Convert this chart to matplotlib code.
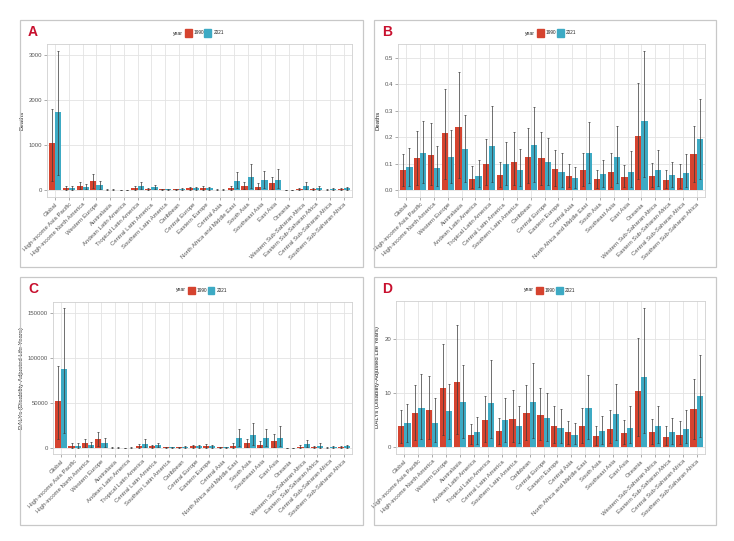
import numpy as np
import matplotlib.pyplot as plt
from matplotlib.patches import Rectangle

plt.rcParams['font.family'] = ['Liberation Sans', 'DejaVu Sans']

regions = ["Global", "High-income Asia Pacific", "High-income North America", "Western Europe",
           "Australasia", "Andean Latin America", "Tropical Latin America", "Central Latin America",
           "Southern Latin America", "Caribbean", "Central Europe", "Eastern Europe", "Central Asia",
           "North Africa and Middle East", "South Asia", "Southeast Asia", "East Asia", "Oceania",
           "Western Sub-Saharan Africa", "Eastern Sub-Saharan Africa", "Central Sub-Saharan Africa",
           "Southern Sub-Saharan Africa"]
years = ["1990", "2021"]

# A: deaths (number)
deaths_1990 = [1040, 50, 90, 195, 8, 3, 40, 25, 15, 15, 40, 45, 10, 55, 100, 75, 155, 2, 25, 25, 8, 25]
deaths_1990_lo = [200, 10, 20, 40, 2, 1, 8, 5, 3, 3, 8, 9, 2, 10, 20, 15, 30, 0, 5, 5, 2, 5]
deaths_1990_hi = [1800, 95, 180, 360, 15, 6, 80, 50, 30, 30, 75, 80, 20, 100, 180, 150, 295, 4, 50, 50, 16, 50]
deaths_2021 = [1740, 45, 65, 110, 6, 5, 85, 60, 15, 20, 35, 35, 10, 205, 280, 215, 215, 3, 85, 50, 18, 35]
deaths_2021_lo = [330, 10, 15, 25, 1, 1, 15, 12, 3, 4, 7, 7, 2, 40, 50, 40, 40, 1, 15, 10, 4, 7]
deaths_2021_hi = [3080, 95, 130, 200, 12, 10, 180, 120, 30, 40, 65, 70, 20, 410, 570, 430, 470, 6, 170, 100, 38, 70]

# B: deaths (rate)
drate_1990 = [0.077, 0.123, 0.131, 0.216, 0.238, 0.043, 0.098, 0.058, 0.106, 0.126, 0.121, 0.079, 0.052,
              0.076, 0.041, 0.069, 0.048, 0.205, 0.053, 0.037, 0.046, 0.138]
drate_1990_lo = [0.015, 0.02, 0.02, 0.04, 0.045, 0.008, 0.02, 0.01, 0.02, 0.025, 0.02, 0.015, 0.01,
                 0.015, 0.008, 0.013, 0.01, 0.04, 0.01, 0.007, 0.009, 0.03]
drate_1990_hi = [0.135, 0.225, 0.255, 0.383, 0.448, 0.09, 0.195, 0.105, 0.218, 0.233, 0.221, 0.15, 0.097,
                 0.142, 0.077, 0.142, 0.093, 0.405, 0.104, 0.074, 0.097, 0.243]
drate_2021 = [0.088, 0.139, 0.085, 0.125, 0.155, 0.052, 0.165, 0.097, 0.076, 0.169, 0.107, 0.07, 0.045,
              0.142, 0.06, 0.126, 0.067, 0.263, 0.075, 0.055, 0.066, 0.192]
drate_2021_lo = [0.015, 0.025, 0.015, 0.025, 0.03, 0.01, 0.03, 0.018, 0.015, 0.03, 0.02, 0.012, 0.008,
                 0.025, 0.012, 0.025, 0.013, 0.05, 0.015, 0.01, 0.013, 0.04]
drate_2021_hi = [0.16, 0.26, 0.168, 0.227, 0.285, 0.112, 0.32, 0.18, 0.155, 0.315, 0.198, 0.142, 0.088,
                 0.257, 0.115, 0.243, 0.146, 0.525, 0.15, 0.105, 0.138, 0.345]

# C: DALYs (number)
dalys_1990 = [52000, 2700, 5000, 10000, 500, 200, 2300, 1800, 800, 800, 2000, 2500, 600, 2700, 5000, 3700,
              8000, 150, 1500, 1300, 500, 1200]
dalys_1990_lo = [10000, 500, 1000, 2000, 100, 40, 450, 350, 150, 150, 400, 500, 120, 500, 1000, 700,
                 1500, 30, 300, 250, 100, 250]
dalys_1990_hi = [91000, 5200, 9500, 17500, 1000, 400, 4500, 3500, 1600, 1500, 3700, 4500, 1100, 5000, 9500,
                 7500, 15000, 300, 3000, 2500, 1000, 2300]
dalys_2021 = [88000, 2700, 3700, 6000, 400, 300, 4800, 3300, 800, 1000, 1800, 1800, 600, 11500, 14500,
              11000, 11500, 200, 4300, 2600, 1000, 1700]
dalys_2021_lo = [17000, 500, 700, 1200, 80, 60, 900, 650, 150, 200, 350, 350, 120, 2200, 2800, 2100,
                 2200, 40, 850, 500, 200, 350]
dalys_2021_hi = [156000, 5500, 7200, 11000, 800, 600, 9500, 6000, 1500, 2000, 3400, 3600, 1100, 21000,
                 28000, 21000, 24000, 400, 8500, 5200, 2000, 3300]

# D: DALYs (rate)
darate_1990 = [3.9, 6.3, 6.8, 10.9, 12.1, 2.2, 4.9, 3.0, 5.2, 6.3, 6.0, 3.9, 2.7, 3.9, 2.1, 3.4, 2.5, 10.3,
               2.7, 1.9, 2.3, 7.0]
darate_1990_lo = [0.8, 1.3, 1.4, 2.2, 2.4, 0.5, 1.0, 0.6, 1.0, 1.3, 1.2, 0.8, 0.5, 0.8, 0.4, 0.7, 0.5, 2.1,
                  0.5, 0.4, 0.5, 1.4]
darate_1990_hi = [6.8, 11.5, 13.1, 19.1, 22.6, 4.3, 9.5, 5.4, 10.5, 11.5, 10.9, 7.5, 4.8, 7.3, 3.8, 6.8, 4.9,
                  20.2, 5.2, 3.8, 4.8, 12.5]
darate_2021 = [4.5, 7.3, 4.5, 6.7, 8.3, 2.7, 8.2, 5.0, 3.8, 8.4, 5.4, 3.5, 2.3, 7.3, 3.0, 6.1, 3.5, 13.0,
               3.8, 2.8, 3.3, 9.5]
darate_2021_lo = [1.0, 1.5, 1.0, 1.4, 1.7, 0.6, 1.6, 1.0, 0.8, 1.7, 1.1, 0.7, 0.5, 1.5, 0.6, 1.2, 0.7, 2.6,
                  0.8, 0.6, 0.7, 1.9]
darate_2021_hi = [8.0, 13.5, 9.1, 11.7, 15.2, 5.6, 16.1, 9.1, 7.6, 15.6, 9.9, 7.1, 4.4, 13.3, 5.7, 11.6, 7.5,
                  25.7, 7.5, 5.3, 6.8, 17.0]

red = "#D5432F"
teal = "#3DAAC4"
W, H = 734, 541

fig = plt.figure(figsize=(7.34, 5.41), dpi=100)

panels = [
    # letter, axes box (px: left, top, right, bottom), box (px), ylim, yticks, ylabel, data
    ("A", (47, 44, 352, 197), (20, 20, 363, 267), (-155, 3244), [0, 1000, 2000, 3000], "Deaths",
     (deaths_1990, deaths_1990_lo, deaths_1990_hi, deaths_2021, deaths_2021_lo, deaths_2021_hi)),
    ("B", (398, 44, 705, 197), (374, 20, 716, 267), (-0.0265, 0.553), [0, 0.1, 0.2, 0.3, 0.4, 0.5], "Deaths",
     (drate_1990, drate_1990_lo, drate_1990_hi, drate_2021, drate_2021_lo, drate_2021_hi)),
    ("C", (53, 302, 352, 454), (20, 277, 363, 525), (-6667, 162222), [0, 50000, 100000, 150000],
     "DALYs (Disability-Adjusted Life Years)",
     (dalys_1990, dalys_1990_lo, dalys_1990_hi, dalys_2021, dalys_2021_lo, dalys_2021_hi)),
    ("D", (396, 301, 705, 454), (374, 277, 716, 525), (-1.3, 27.0), [0, 10, 20],
     "DALYs (Disability-Adjusted Life Years)",
     (darate_1990, darate_1990_lo, darate_1990_hi, darate_2021, darate_2021_lo, darate_2021_hi)),
]

x = np.arange(len(regions))
bw = 0.45

for letter, (l, t, r, b), (bl, bt, br, bb), ylim, yticks, ylabel, data in panels:
    # outer panel frame
    fig.patches.append(Rectangle((bl / W, 1 - bb / H), (br - bl) / W, (bb - bt) / H,
                                 transform=fig.transFigure, fill=False, ec="#c8c8c8", lw=0.9))
    ax = fig.add_axes([l / W, 1 - b / H, (r - l) / W, (b - t) / H])
    v1, lo1, hi1, v2, lo2, hi2 = [np.array(d, dtype=float) for d in data]
    ax.bar(x - bw / 2, v1, bw, color=red, zorder=2)
    ax.bar(x + bw / 2, v2, bw, color=teal, zorder=2)
    ax.errorbar(x - bw / 2, v1, yerr=[v1 - lo1, hi1 - v1], fmt="none", ecolor="#3a3a3a",
                elinewidth=0.6, capsize=0.8, capthick=0.6, alpha=0.85, zorder=3)
    ax.errorbar(x + bw / 2, v2, yerr=[v2 - lo2, hi2 - v2], fmt="none", ecolor="#3a3a3a",
                elinewidth=0.6, capsize=0.8, capthick=0.6, alpha=0.85, zorder=3)
    ax.set_xlim(-0.6, len(regions) - 0.4)
    ax.set_ylim(*ylim)
    ax.set_yticks(yticks)
    if letter == "B":
        ax.set_yticklabels(["%.1f" % v for v in yticks])
    else:
        ax.set_yticklabels([str(v) for v in yticks])
    ax.set_xticks(x)
    ax.set_xticklabels(regions, rotation=45, ha="right", rotation_mode="anchor")
    ax.tick_params(axis="both", labelsize=4.3, colors="#8a8a8a", labelcolor="#555555",
                   length=2, width=0.5, pad=1.5)
    ax.grid(True, color="#e3e3e3", lw=0.6, zorder=0)
    ax.set_axisbelow(True)
    for s in ax.spines.values():
        s.set_color("#d0d0d0")
        s.set_linewidth(0.6)
    ax.set_ylabel(ylabel, fontsize=4.3, color="#222222", labelpad=3)

    # panel letter
    fig.text((bl + 13) / W, 1 - (bt + 12) / H, letter, color="#C8102E", fontsize=10,
             fontweight="bold", ha="center", va="center")

    # legend
    cx = (l + r) / 2
    ly = bt + 13
    fig.text((cx - 17) / W, 1 - ly / H, "year", fontsize=3.6, ha="right", va="center", color="#222222")
    for i, (c, lab) in enumerate(zip([red, teal], years)):
        sx = cx - 15 + i * 20
        fig.patches.append(Rectangle((sx / W, 1 - (ly + 3.5) / H), 7 / W, 7 / H,
                                     transform=fig.transFigure, color=c))
        fig.text((sx + 9) / W, 1 - ly / H, lab, fontsize=3.4, ha="left", va="center", color="#222222")

fig.savefig("out.png", dpi=100)
